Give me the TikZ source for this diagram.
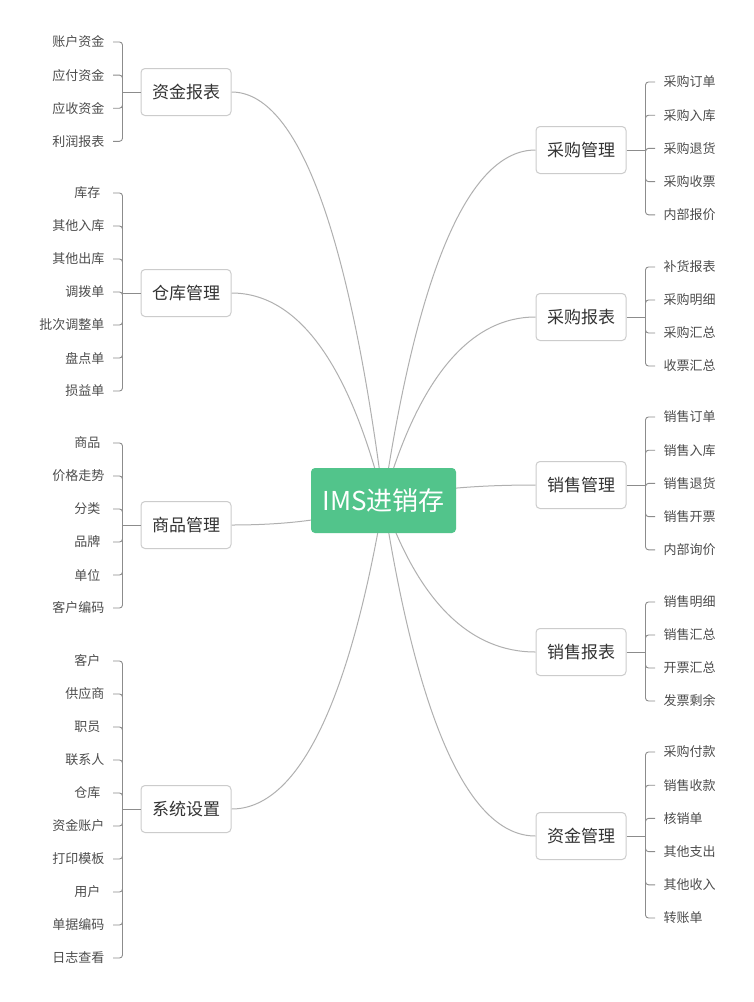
\documentclass[tikz,border=0pt]{standalone}
\usepackage{fontspec}
\setmainfont{Noto Sans CJK SC}
\usetikzlibrary{positioning, calc, backgrounds}

\definecolor{rootgreen}{HTML}{52C48B}
\definecolor{boxline}{HTML}{CCCCCC}
\definecolor{curvegray}{HTML}{B0B0B0}
\definecolor{twiggray}{HTML}{8C8C8C}
\definecolor{textdark}{HTML}{333333}
\definecolor{textleaf}{HTML}{4D4D4D}

\begin{document}
\begin{tikzpicture}[
  x=1pt, y=-1pt,
  root/.style = {fill=rootgreen, text=white, rounded corners=4pt, minimum width=145pt, minimum height=65pt, font=\fontsize{26}{30}\selectfont},
  topic/.style = {draw=boxline, fill=white, line width=1pt, rounded corners=4pt, minimum width=90pt, minimum height=47pt, text=textdark, font=\fontsize{17}{20}\selectfont},
  leaf/.style = {inner xsep=8.5pt, inner ysep=2pt, minimum width=51pt, text=textleaf, font=\fontsize{13}{15}\selectfont},
  twig/.style = {draw=twiggray, line width=0.9pt, rounded corners=3pt},
  branch/.style = {draw=curvegray, line width=1pt,
    to path={let \p1=(\tikztostart), \p2=(\tikztotarget) in
      .. controls ({\x1+0.43*(\x2-\x1)}, \y1) and ({\x2+0.23*(\x1-\x2)}, {\y2+0.67*(\y1-\y2)}) .. (\tikztotarget)}}
]
\useasboundingbox (0,0) rectangle (754,1002);

% Root
\node[root] (root) at (383.5,500.5) {IMS进销存};

% Left topics
\node[topic] (zjbb) at (186,92) {资金报表};
\node[topic] (ckgl) at (186,293) {仓库管理};
\node[topic] (spgl) at (186,525) {商品管理};
\node[topic] (xtsz) at (186,809) {系统设置};

% Right topics
\node[topic] (cggl) at (581,150) {采购管理};
\node[topic] (cgbb) at (581,317) {采购报表};
\node[topic] (xsgl) at (581,485) {销售管理};
\node[topic] (xsbb) at (581,652) {销售报表};
\node[topic] (zjgl) at (581,836) {资金管理};

% 资金报表 leaves
\foreach \t [count=\i] in {账户资金,应付资金,应收资金,利润报表} {
  \node[leaf, anchor=east] (zjbb-\i) at (113, {42+33.1*(\i-1)}) {\t};
  \draw[twig] ($(zjbb.west)+(-18,0)$) |- (zjbb-\i.east);
}
\draw[twig] (zjbb.west) -- ++(-18,0);

% 仓库管理 leaves
\foreach \t [count=\i] in {库存,其他入库,其他出库,调拨单,批次调整单,盘点单,损益单} {
  \node[leaf, anchor=east] (ckgl-\i) at (113, {193+33*(\i-1)}) {\t};
  \draw[twig] ($(ckgl.west)+(-18,0)$) |- (ckgl-\i.east);
}
\draw[twig] (ckgl.west) -- ++(-18,0);

% 商品管理 leaves
\foreach \t [count=\i] in {商品,价格走势,分类,品牌,单位,客户编码} {
  \node[leaf, anchor=east] (spgl-\i) at (113, {443+33*(\i-1)}) {\t};
  \draw[twig] ($(spgl.west)+(-18,0)$) |- (spgl-\i.east);
}
\draw[twig] (spgl.west) -- ++(-18,0);

% 系统设置 leaves
\foreach \t [count=\i] in {客户,供应商,职员,联系人,仓库,资金账户,打印模板,用户,单据编码,日志查看} {
  \node[leaf, anchor=east] (xtsz-\i) at (113, {661+33*(\i-1)}) {\t};
  \draw[twig] ($(xtsz.west)+(-18,0)$) |- (xtsz-\i.east);
}
\draw[twig] (xtsz.west) -- ++(-18,0);

% 采购管理 leaves
\foreach \t [count=\i] in {采购订单,采购入库,采购退货,采购收票,内部报价} {
  \node[leaf, anchor=west] (cggl-\i) at (655, {82+33.2*(\i-1)}) {\t};
  \draw[twig] ($(cggl.east)+(19,0)$) |- (cggl-\i.west);
}
\draw[twig] (cggl.east) -- ++(19,0);

% 采购报表 leaves
\foreach \t [count=\i] in {补货报表,采购明细,采购汇总,收票汇总} {
  \node[leaf, anchor=west] (cgbb-\i) at (655, {267+33*(\i-1)}) {\t};
  \draw[twig] ($(cgbb.east)+(19,0)$) |- (cgbb-\i.west);
}
\draw[twig] (cgbb.east) -- ++(19,0);

% 销售管理 leaves
\foreach \t [count=\i] in {销售订单,销售入库,销售退货,销售开票,内部询价} {
  \node[leaf, anchor=west] (xsgl-\i) at (655, {417+33.2*(\i-1)}) {\t};
  \draw[twig] ($(xsgl.east)+(19,0)$) |- (xsgl-\i.west);
}
\draw[twig] (xsgl.east) -- ++(19,0);

% 销售报表 leaves
\foreach \t [count=\i] in {销售明细,销售汇总,开票汇总,发票剩余} {
  \node[leaf, anchor=west] (xsbb-\i) at (655, {602+33*(\i-1)}) {\t};
  \draw[twig] ($(xsbb.east)+(19,0)$) |- (xsbb-\i.west);
}
\draw[twig] (xsbb.east) -- ++(19,0);

% 资金管理 leaves
\foreach \t [count=\i] in {采购付款,销售收款,核销单,其他支出,其他收入,转账单} {
  \node[leaf, anchor=west] (zjgl-\i) at (655, {752+33.2*(\i-1)}) {\t};
  \draw[twig] ($(zjgl.east)+(19,0)$) |- (zjgl-\i.west);
}
\draw[twig] (zjgl.east) -- ++(19,0);

% Curves to the root, under it
\begin{scope}[on background layer]
  \fill[white] (0,0) rectangle (754,1002);
  \foreach \b in {zjbb,ckgl,spgl,xtsz}
    \draw[branch] (\b.east) to (root.center);
  \foreach \b in {cggl,cgbb,xsgl,xsbb,zjgl}
    \draw[branch] (\b.west) to (root.center);
\end{scope}

\end{tikzpicture}
\end{document}
